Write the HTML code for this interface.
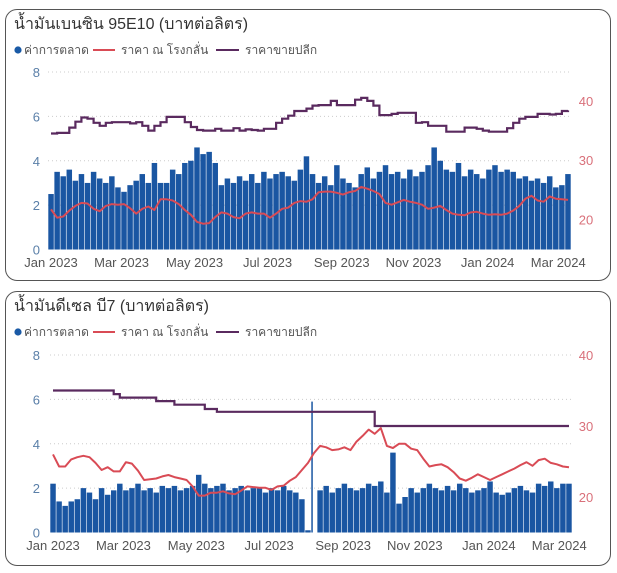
<!DOCTYPE html>
<html><head><meta charset="utf-8">
<style>
body{margin:0;width:617px;height:573px;background:#fff;font-family:"Liberation Sans","Noto Sans CJK SC",sans-serif;overflow:hidden}
.card{position:absolute;border:1.5px solid #555;border-radius:12px;background:#fff}
svg{position:absolute;left:0;top:0}
</style></head><body>
<div class="card" style="left:5px;top:9px;width:604px;height:270px"></div>
<div class="card" style="left:5px;top:291px;width:604px;height:273px"></div>
<svg id="s" width="617" height="573"></svg>
<script>
// ---------- Chart 1: Gasohol 95E10 ----------
const petrolMargin=[2.5,3.5,3.3,3.6,3.1,3.4,3.0,3.5,3.2,3.0,3.3,2.8,2.6,2.9,3.1,3.4,3.0,3.9,3.0,3.0,3.6,3.4,3.9,4.0,4.6,4.3,4.4,3.9,2.9,3.2,3.0,3.3,3.1,3.4,3.0,3.5,3.2,3.4,3.5,3.3,3.1,3.6,4.2,3.4,3.0,3.3,2.9,3.8,3.2,3.0,2.8,3.4,3.7,3.2,3.5,3.8,3.4,3.5,3.2,3.6,3.3,3.5,3.8,4.6,4.0,3.6,3.5,3.9,3.3,3.6,3.4,3.2,3.6,3.8,3.5,3.6,3.5,3.2,3.3,3.1,3.2,3.0,3.3,2.8,2.9,3.4];
const petrolRefinery=[21.7,20.3,20.5,21.5,22.3,22.8,22.7,21.8,21.4,22.3,22.6,22.5,22.6,21.9,21.0,21.8,22.2,21.6,23.4,23.4,23.2,22.6,21.6,20.8,19.6,19.3,19.4,20.4,21.2,21.0,20.4,20.2,21.0,21.2,21.0,21.0,20.3,21.0,21.8,22.0,22.8,23.1,23.0,23.4,24.6,24.7,24.7,24.5,24.2,24.6,24.8,25.5,25.2,24.8,24.3,22.8,22.5,22.9,23.3,23.0,22.8,22.5,21.8,22.0,22.3,21.6,21.0,20.8,20.7,21.2,21.3,21.0,20.8,20.9,20.8,21.0,21.5,22.3,23.5,24.0,23.2,23.0,23.9,23.5,23.4,23.3];
const petrolRetail=[34.5,34.6,34.6,35.5,36.5,37.2,37.0,36.3,35.8,36.3,36.4,36.4,36.4,36.2,36.4,35.8,35.0,35.8,36.4,37.3,37.3,37.3,36.4,35.6,35.1,35.0,35.0,35.3,35.0,35.0,35.4,35.0,35.2,35.1,35.0,35.3,35.3,36.3,37.0,37.5,38.3,38.3,38.7,39.2,39.3,39.3,40.0,39.3,39.3,39.3,40.2,40.5,40.0,39.2,37.6,37.6,37.8,38.0,38.0,38.0,36.3,36.4,35.8,35.8,35.8,34.8,34.8,34.8,35.5,35.5,35.3,35.0,34.8,34.8,34.8,35.4,36.3,37.0,37.3,37.3,37.8,37.8,37.7,37.8,38.3,38.4];
// ---------- Chart 2: Diesel B7 ----------
const dieselMargin=[2.2,1.4,1.2,1.4,1.5,2.0,1.8,1.5,2.0,1.7,1.9,2.2,1.9,2.0,2.2,1.9,2.0,1.8,2.1,2.0,2.1,1.9,2.0,2.1,2.6,2.2,2.0,2.1,2.2,1.9,2.0,2.1,1.9,2.0,2.0,1.8,2.0,1.9,2.1,1.9,1.8,1.5,0.1,5.9,1.9,2.1,1.8,2.0,2.2,2.0,1.9,2.0,2.2,2.1,2.3,1.8,3.6,1.3,1.6,2.0,1.8,2.0,2.2,2.0,1.9,2.1,1.9,2.2,2.0,1.8,1.9,2.0,2.3,1.8,1.7,1.8,2.0,2.1,1.9,1.8,2.2,2.1,2.3,2.0,2.2,2.2];
const dieselRefinery=[26.0,24.3,24.3,25.3,25.6,25.8,25.6,24.8,23.8,24.2,23.6,23.6,24.9,24.7,23.7,22.4,22.5,22.6,22.9,23.1,22.8,22.6,22.4,21.5,20.2,20.2,20.6,20.6,20.8,20.5,20.4,20.9,21.5,21.4,21.3,21.3,21.0,21.5,21.6,22.3,22.8,23.8,24.8,26.2,27.2,27.0,26.6,26.7,27.0,26.6,27.8,28.6,29.5,28.9,29.7,27.2,26.9,27.5,27.5,26.8,26.6,25.4,24.3,24.5,24.6,24.2,23.5,22.6,22.3,22.7,23.2,22.8,22.4,22.8,23.2,23.6,24.0,24.5,24.9,24.4,25.2,25.4,24.8,24.6,24.3,24.2];
const dieselRetail=[35,35,35,35,35,35,35,35,35,35,34.5,34,34,34,34,34,34,33.5,33.5,33.5,33,33,33,33,33,32.4,32.4,32,32,32,32,32,32,32,32,32,32,32,32,32,32,32,32,32,32,32,32,32,32,32,32,32,32,30,30,30,30,30,30,30,30,30,30,30,30,30,30,30,30,30,30,30,30,30,30,30,30,30,30,30,30,30,30,30,30,30];
const xTicks=["Jan 2023","Mar 2023","May 2023","Jul 2023","Sep 2023","Nov 2023","Jan 2024","Mar 2024"];
const xTickIdx=[0,11.6,23.6,35.6,47.8,59.6,71.8,83.4];
const leftTicks=[0,2,4,6,8];
const petrolRightTicks=[20,30,40];
const dieselRightTicks=[20,30,40];

const NS="http://www.w3.org/2000/svg";
const svg=document.getElementById('s');
function mk(tag,attrs,parent){const e=document.createElementNS(NS,tag);for(const k in attrs)e.setAttribute(k,attrs[k]);(parent||svg).appendChild(e);return e;}
function txt(x,y,s,attrs){const t=mk('text',Object.assign({x:x,y:y},attrs));t.textContent=s;return t;}

function drawChart(cfg){
  const g=mk('g',{});
  
  
  const n=cfg.bars.length;
  const step=(cfg.x1-cfg.x0)/(n);
  const X=i=>cfg.x0+step*(i+0.5);
  const YL=v=>cfg.yL0-(v/8)*(cfg.yL0-cfg.yL8);
  const YR=v=>cfg.yR20-(v-20)*cfg.rScale;
  const t=txt(14,cfg.top+19,cfg.title,{'font-size':'16','fill':'#333'});
  
  
  const ly=cfg.top+44;
  const lg=mk('g',{},g);
  
  
  const d=mk('circle',{cx:18,cy:ly-4,r:3.6,fill:'#1a5aa6'},lg);
  
  
  const l1=txt(24,ly,'ค่าการตลาด',{'font-size':'12','fill':'#555'});lg.appendChild(l1);
  
  
  mk('line',{x1:93,x2:115,y1:ly-4,y2:ly-4,stroke:'#d94b55','stroke-width':2},lg);
  const l2=txt(121,ly,'ราคา ณ โรงกลั่น',{'font-size':'12','fill':'#555'});lg.appendChild(l2);
  
  
  mk('line',{x1:216,x2:239,y1:ly-4,y2:ly-4,stroke:'#5a2a5f','stroke-width':2},lg);
  const l3=txt(245,ly,'ราคาขายปลีก',{'font-size':'12','fill':'#555'});lg.appendChild(l3);
  
  
  leftTicks.forEach(v=>{
    if(v>0){const gl=mk('line',{x1:cfg.x0,x2:cfg.x1,y1:YL(v),y2:YL(v),stroke:'#ccc','stroke-dasharray':'1 3'},g);
      
      }
    const tl=txt(40,YL(v)+5,String(v),{'font-size':'13','fill':'#5a7fa8','text-anchor':'end'});
    
    
  });
  cfg.rTicks.forEach(v=>{
    const tr=txt(586,YR(v)+5,String(v),{'font-size':'13','fill':'#d9707a','text-anchor':'middle'});
    
    
  });
  const bw=Math.max(1,step-0.6);
  cfg.bars.forEach((v,i)=>{
    const y=YL(v);
    const r=mk('rect',{x:X(i)-bw/2,y:y,width:(v>4.5&&cfg.thinSpike)?1.5:bw,height:cfg.yL0-y,fill:'#1a56a2'},g);
    
    
  });
  let p='';cfg.ref.forEach((v,i)=>{p+=(i?'L':'M')+X(i).toFixed(1)+' '+YR(v).toFixed(1);});
  const rl=mk('path',{d:p,fill:'none',stroke:'#d94b55','stroke-width':2,'stroke-linejoin':'round'},g);
  
  
  let q='';cfg.ret.forEach((v,i)=>{const y=YR(v).toFixed(1);q+=i?('L'+X(i).toFixed(1)+' '+YR(cfg.ret[i-1]).toFixed(1)+'L'+X(i).toFixed(1)+' '+y):('M'+X(i).toFixed(1)+' '+y);});
  const pl=mk('path',{d:q,fill:'none',stroke:'#5a2a5f','stroke-width':2.2},g);
  
  
  xTicks.forEach((s,k)=>{
    const xt=txt(X(xTickIdx[k]),cfg.xLabelY,s,{'font-size':'13','fill':'#555','text-anchor':'middle'});
    
    
  });
}
drawChart({name:'petrol-chart',title:'น้ำมันเบนซิน 95E10 (บาทต่อลิตร)',top:10,x0:48,x1:571,yL0:249.5,yL8:72,yR20:219.5,rScale:5.93,rTicks:petrolRightTicks,xLabelY:267,bars:petrolMargin,ref:petrolRefinery,ret:petrolRetail});
drawChart({name:'diesel-chart',title:'น้ำมันดีเซล บี7 (บาทต่อลิตร)',top:292,x0:50,x1:572,yL0:532.5,yL8:355,yR20:497,rScale:7.1,rTicks:dieselRightTicks,xLabelY:550,bars:dieselMargin,ref:dieselRefinery,ret:dieselRetail,thinSpike:true});
</script>
</body></html>
